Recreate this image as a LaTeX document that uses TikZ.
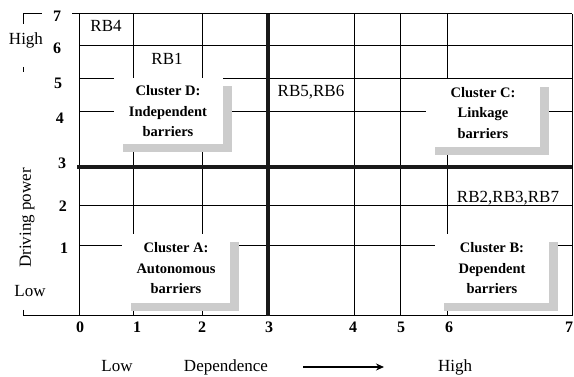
\documentclass[tikz,border=0pt]{standalone}
\usepackage{fontspec}
\setmainfont{Liberation Serif}
\usetikzlibrary{arrows.meta,shadows}

\begin{document}
\begin{tikzpicture}[
    x=1pt, y=-1pt,
    gridline/.style={line width=1pt, black},
    boldline/.style={line width=3.2pt, black!90},
    cluster/.style={fill=white, inner sep=0pt, align=center,
        font=\fontsize{14.5}{20.5}\selectfont\bfseries,
        drop shadow={shadow xshift=9pt, shadow yshift=-8pt, fill=black!20, opacity=1}},
    rblabel/.style={anchor=base, font=\fontsize{17}{20}\selectfont},
    ticklabel/.style={font=\fontsize{16}{18}\selectfont\bfseries},
    axislabel/.style={anchor=base, font=\fontsize{17}{20}\selectfont},
    arrow/.style={-{Stealth[length=8pt, width=7pt]}, line width=1.6pt}
]
\useasboundingbox (0,0) rectangle (574,377);

% Grid lines
\foreach \gx in {133,202,354,400,447}
    \draw[gridline] (\gx,14) -- (\gx,316);
\foreach \gy in {46,79,112,206,246}
    \draw[gridline] (79,\gy) -- (572,\gy);

% Frame and brackets
\draw[gridline] (79,14) -- (79,316);
\draw[gridline] (572,14) -- (572,316);
\draw[gridline] (72,14) -- (572,14);
\draw[gridline] (23,316) -- (572,316);
\draw[gridline] (23,24) -- (23,14) -- (42,14);
\draw[gridline] (23,67) -- (23,72);
\draw[gridline] (23,310) -- (23,316);

% Quadrant dividers
\draw[boldline] (77,167) -- (572,167);
\draw[boldline] (268,14) -- (268,316);

% Clusters
\node[cluster, minimum width=109pt, minimum height=66pt] (clusterD) at (168,111.5) {Cluster D:\\Independent\\barriers};
\node[cluster, minimum width=114pt, minimum height=68pt] (clusterC) at (483,113) {Cluster C:\\Linkage\\barriers};
\node[cluster, minimum width=108pt, minimum height=69pt] (clusterA) at (176,268.5) {Cluster A:\\Autonomous\\barriers};
\node[cluster, minimum width=114pt, minimum height=69pt] (clusterB) at (492,268.5) {Cluster B:\\Dependent\\barriers};

% Barriers
\node[rblabel] (rb4) at (106,32) {RB4};
\node[rblabel] (rb1) at (167,65) {RB1};
\node[rblabel] (rb56) at (311,97) {RB5,RB6};
\node[rblabel] (rb237) at (508,203) {RB2,RB3,RB7};

% Driving power ticks
\node[ticklabel] (y7) at (57,16) {7};
\node[ticklabel] (y6) at (57,48) {6};
\node[ticklabel] (y5) at (58,83) {5};
\node[ticklabel] (y4) at (60,118) {4};
\node[ticklabel] (y3) at (62,163) {3};
\node[ticklabel] (y2) at (63,206.5) {2};
\node[ticklabel] (y1) at (64,248.5) {1};

% Dependence ticks
\node[ticklabel] (x0) at (80,327.5) {0};
\node[ticklabel] (x1) at (137,327.5) {1};
\node[ticklabel] (x2) at (202,327.5) {2};
\node[ticklabel] (x3) at (269,327.5) {3};
\node[ticklabel] (x4) at (353,327.5) {4};
\node[ticklabel] (x5) at (401,327.5) {5};
\node[ticklabel] (x6) at (449,327.5) {6};
\node[ticklabel] (x7) at (569,327.5) {7};

% Axis titles
\node[axislabel] (yhigh) at (26,45) {High};
\node[axislabel] (ylow) at (30,297) {Low};
\node[font=\fontsize{17}{20}\selectfont, rotate=90] (ytitle) at (27,218) {Driving power};
\node[axislabel] (xlow) at (117,371) {Low};
\node[axislabel] (xtitle) at (226,371) {Dependence};
\node[axislabel] (xhigh) at (455,371) {High};

% Arrow
\coordinate (arrowtail) at (303,367);
\coordinate (arrowhead) at (384,367);
\draw[arrow] (arrowtail) -- (arrowhead);

\end{tikzpicture}
\end{document}
